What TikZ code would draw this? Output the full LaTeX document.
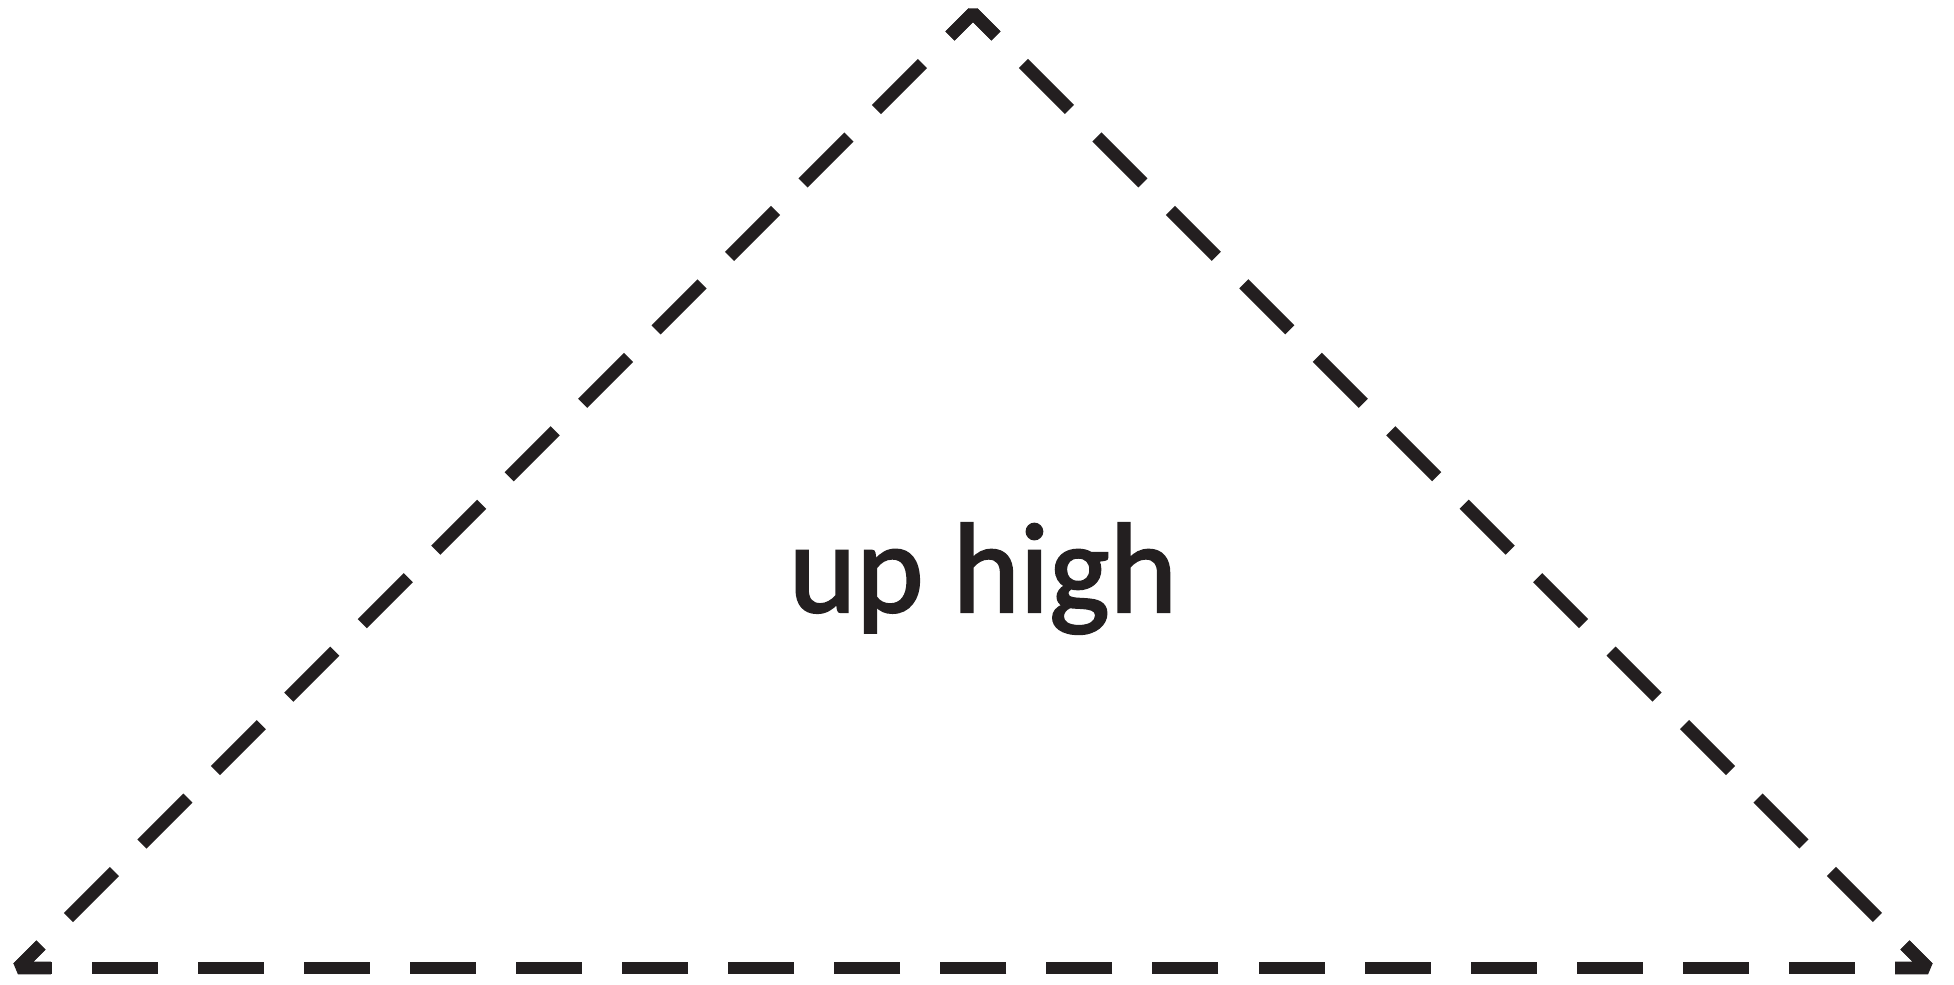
\documentclass[tikz,border=0pt]{standalone}
\usepackage{fontspec}
\setmainfont{Carlito}[BoldFont=Carlito,BoldFeatures={FakeBold=1.8}]
\usetikzlibrary{positioning,calc}
\definecolor{fekete}{HTML}{231F20}
\tikzset{
  oldal/.style={draw=fekete,line width=0.26cm,line cap=butt},
  alap/.style={oldal,dash pattern=on 1.32cm off 0.802cm,dash phase=0.66cm},
  ferde/.style={oldal,dash pattern=on 1.30cm off 0.778cm,dash phase=0.65cm},
  sarok/.style={draw=fekete,line width=0.26cm,line join=bevel,line cap=butt},
  felirat/.style={text=fekete,font=\fontsize{73}{86}\bfseries,anchor=base},
}
\begin{document}
\begin{tikzpicture}[x=0.02cm,y=0.02cm]
  \useasboundingbox (0,0) rectangle (1954,984);
  \coordinate (bal) at (18,16); \coordinate (jobb) at (1928,16); \coordinate (csucs) at (973,971);
  % oldalak
  \draw[ferde] (bal) -- (csucs);
  \draw[ferde] (csucs) -- (jobb);
  \draw[alap] (jobb) -- (bal);
  % sarkok
  \draw[sarok] ($(bal)!0.65cm!(csucs)$) -- (bal) -- ($(bal)!0.66cm!(jobb)$);
  \draw[sarok] ($(csucs)!0.65cm!(bal)$) -- (csucs) -- ($(csucs)!0.65cm!(jobb)$);
  \draw[sarok] ($(jobb)!0.65cm!(csucs)$) -- (jobb) -- ($(jobb)!0.66cm!(bal)$);
  \node[felirat] (cim) at (983,372) {up high};
\end{tikzpicture}
\end{document}
